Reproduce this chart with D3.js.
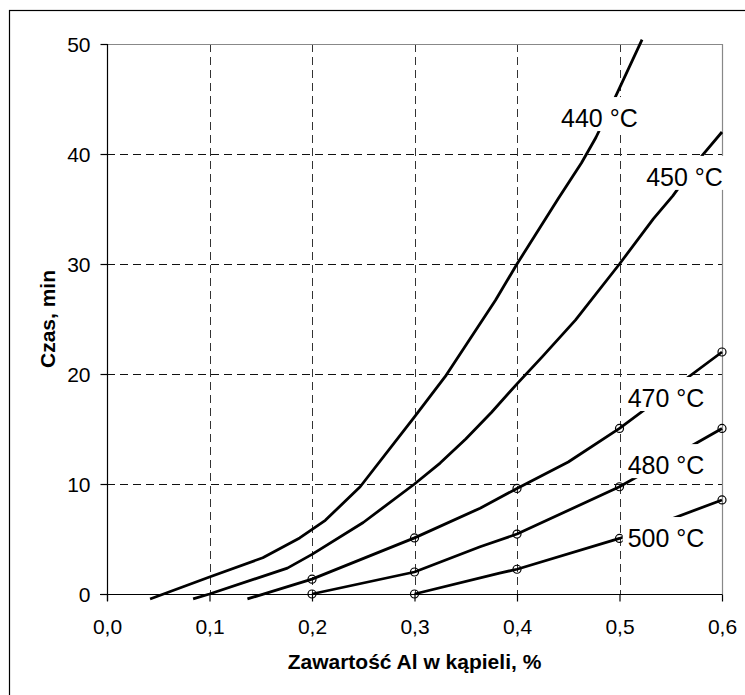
<!DOCTYPE html>
<html>
<head>
<meta charset="utf-8">
<script src="https://cdn.jsdelivr.net/npm/d3@7/dist/d3.min.js"></script>
<style>
  body { margin: 0; background: #fff; }
  svg { display: block; font-family: Arial, "Liberation Sans", sans-serif; }
</style>
</head>
<body>
<svg id="chart" width="745" height="695"></svg>
<script>
  // data: x = Al content [%], y = time [min]
  var xTicks = [0.0, 0.1, 0.2, 0.3, 0.4, 0.5, 0.6];
  var yTicks = [0, 10, 20, 30, 40, 50];

  var seriesNames = ["440 °C", "450 °C", "470 °C", "480 °C", "500 °C"];

  var line440X = [0.042, 0.1, 0.152, 0.188, 0.213, 0.247, 0.3, 0.331, 0.379, 0.4, 0.44, 0.463, 0.477, 0.496, 0.522];
  var line440Y = [-0.45, 1.55, 3.3, 5.1, 6.7, 9.75, 16.1, 19.9, 26.7, 30.0, 35.9, 39.2, 41.5, 45.2, 50.4];

  var line450X = [0.084, 0.1, 0.176, 0.2, 0.25, 0.3, 0.325, 0.35, 0.375, 0.4, 0.425, 0.457, 0.5, 0.533, 0.552, 0.581, 0.6];
  var line450Y = [-0.45, 0, 2.35, 3.6, 6.5, 10.0, 11.9, 14.1, 16.5, 19.1, 21.6, 24.9, 30.0, 34.1, 36.2, 39.9, 42.0];

  var line470X = [0.137, 0.2, 0.3, 0.364, 0.4, 0.45, 0.5, 0.6];
  var line470Y = [-0.45, 1.35, 5.1, 7.8, 9.6, 12.0, 15.05, 22.0];

  var line480X = [0.2, 0.3, 0.364, 0.4, 0.5, 0.6];
  var line480Y = [0, 2.0, 4.3, 5.45, 9.75, 15.05];

  var line500X = [0.3, 0.383, 0.4, 0.5, 0.6];
  var line500Y = [0, 1.9, 2.25, 5.05, 8.55];

  // measured points (circle markers)
  var marker470X = [0.2, 0.3, 0.4, 0.5, 0.6];
  var marker470Y = [1.35, 5.1, 9.6, 15.05, 22.0];
  var marker480X = [0.2, 0.3, 0.4, 0.5, 0.6];
  var marker480Y = [0, 2.0, 5.45, 9.75, 15.05];
  var marker500X = [0.3, 0.4, 0.5, 0.6];
  var marker500Y = [0, 2.25, 5.05, 8.55];

  // where each curve label sits (left edge, baseline) in data units
  var labelX = [0.443, 0.526, 0.508, 0.508, 0.508];
  var labelY = [42.45, 37.1, 17.0, 10.9, 4.27];

  var PLOT_LEFT = 107;
  var PLOT_RIGHT = 722;
  var PLOT_TOP = 44;
  var PLOT_BOTTOM = 594;
  var TICK_SIZE = 7;

  function zip(xs, ys) {
    return xs.map(function (x, i) { return [x, ys[i]]; });
  }

  var lines = [
    zip(line440X, line440Y),
    zip(line450X, line450Y),
    zip(line470X, line470Y),
    zip(line480X, line480Y),
    zip(line500X, line500Y)
  ];
  var markers = [].concat(
    zip(marker470X, marker470Y),
    zip(marker480X, marker480Y),
    zip(marker500X, marker500Y)
  );

  var svg = d3.select("#chart");

  var x = d3.scaleLinear().domain([0, 0.6]).range([PLOT_LEFT, PLOT_RIGHT]);
  var y = d3.scaleLinear().domain([0, 50]).range([PLOT_BOTTOM, PLOT_TOP]);

  // outer frame
  svg.append("rect")
    .attr("x", 9.5)
    .attr("y", 10.5)
    .attr("width", 745)
    .attr("height", 695)
    .attr("fill", "#fff")
    .attr("stroke", "#000")
    .attr("stroke-width", 1.2);

  // grid
  var grid = svg.append("g").attr("class", "grid");
  grid.selectAll("line.h")
    .data(yTicks.filter(function (d) { return d > 0 && d < 50; }))
    .enter().append("line")
    .attr("class", "h")
    .attr("x1", PLOT_LEFT).attr("x2", PLOT_RIGHT)
    .attr("y1", function (d) { return Math.round(y(d)) + 0.5; })
    .attr("y2", function (d) { return Math.round(y(d)) + 0.5; })
    .attr("stroke", "#111")
    .attr("stroke-dasharray", "8,5");
  grid.selectAll("line.v")
    .data(xTicks.filter(function (d) { return d > 0 && d < 0.6; }))
    .enter().append("line")
    .attr("class", "v")
    .attr("y1", PLOT_TOP).attr("y2", PLOT_BOTTOM)
    .attr("x1", function (d) { return Math.round(x(d)) + 0.5; })
    .attr("x2", function (d) { return Math.round(x(d)) + 0.5; })
    .attr("stroke", "#333")
    .attr("stroke-dasharray", "8,5");

  // plot area border (top/right are gray)
  svg.append("path")
    .attr("d", "M" + PLOT_LEFT + "," + (PLOT_TOP + 0.5) + "H" + (PLOT_RIGHT + 0.5) + "V" + PLOT_BOTTOM)
    .attr("fill", "none")
    .attr("stroke", "#888")
    .attr("stroke-width", 1.2);

  // axes
  var yAxis = d3.axisLeft(y).tickValues(yTicks).tickSize(TICK_SIZE).tickPadding(10)
    .tickFormat(d3.format("d"));
  var xAxis = d3.axisBottom(x).tickValues(xTicks).tickSize(TICK_SIZE).tickPadding(18)
    .tickFormat(function (d) { return d3.format(".1f")(d).replace(".", ","); });

  var gy = svg.append("g")
    .attr("transform", "translate(" + (PLOT_LEFT + 0.5) + ",0)")
    .call(yAxis);
  var gx = svg.append("g")
    .attr("transform", "translate(0," + (PLOT_BOTTOM + 0.5) + ")")
    .call(xAxis);

  [gx, gy].forEach(function (g) {
    g.select(".domain").remove();
    g.selectAll("line").attr("stroke", "#000").attr("stroke-width", 1.2);
    g.selectAll("text")
      .attr("fill", "#000")
      .style("font-size", "21px")
      .style("font-family", "Arial, 'Liberation Sans', sans-serif");
  });
  gy.selectAll("text").attr("dy", "0.36em");

  svg.append("line")
    .attr("x1", PLOT_LEFT + 0.5).attr("x2", PLOT_LEFT + 0.5)
    .attr("y1", PLOT_TOP).attr("y2", PLOT_BOTTOM + TICK_SIZE)
    .attr("stroke", "#000").attr("stroke-width", 1.2);
  svg.append("line")
    .attr("x1", PLOT_LEFT - TICK_SIZE).attr("x2", PLOT_RIGHT + 0.5)
    .attr("y1", PLOT_BOTTOM + 0.5).attr("y2", PLOT_BOTTOM + 0.5)
    .attr("stroke", "#000").attr("stroke-width", 1.2);

  // curves
  var lineGen = d3.line()
    .x(function (d) { return x(d[0]); })
    .y(function (d) { return y(d[1]); });

  svg.append("g").selectAll("path")
    .data(lines)
    .enter().append("path")
    .attr("d", lineGen)
    .attr("fill", "none")
    .attr("stroke", "#000")
    .attr("stroke-width", 2.8)
    .attr("stroke-linejoin", "round");

  svg.append("g").selectAll("circle")
    .data(markers)
    .enter().append("circle")
    .attr("cx", function (d) { return x(d[0]); })
    .attr("cy", function (d) { return y(d[1]); })
    .attr("r", 4)
    .attr("fill", "none")
    .attr("stroke", "#000")
    .attr("stroke-width", 1.2);

  // curve labels with white boxes that mask lines behind them
  var labels = svg.append("g").selectAll("g")
    .data(seriesNames)
    .enter().append("g");

  labels.append("rect").attr("fill", "#fff");
  labels.append("text")
    .attr("x", function (d, i) { return x(labelX[i]); })
    .attr("y", function (d, i) { return y(labelY[i]); })
    .style("font-size", "25px")
    .attr("fill", "#000")
    .text(function (d) { return d; });

  labels.each(function () {
    var g = d3.select(this);
    var bb = g.select("text").node().getBBox();
    g.select("rect")
      .attr("x", bb.x - 5)
      .attr("y", bb.y - 7)
      .attr("width", bb.width + 10)
      .attr("height", bb.height + 6);
  });

  // axis titles
  svg.append("text")
    .attr("x", (PLOT_LEFT + PLOT_RIGHT) / 2)
    .attr("y", 669)
    .attr("text-anchor", "middle")
    .style("font-size", "21px")
    .style("font-weight", "bold")
    .text("Zawartość Al w kąpieli, %");

  svg.append("text")
    .attr("transform", "translate(55," + ((PLOT_TOP + PLOT_BOTTOM) / 2) + ") rotate(-90)")
    .attr("text-anchor", "middle")
    .style("font-size", "21px")
    .style("font-weight", "bold")
    .text("Czas, min");
</script>
</body>
</html>
